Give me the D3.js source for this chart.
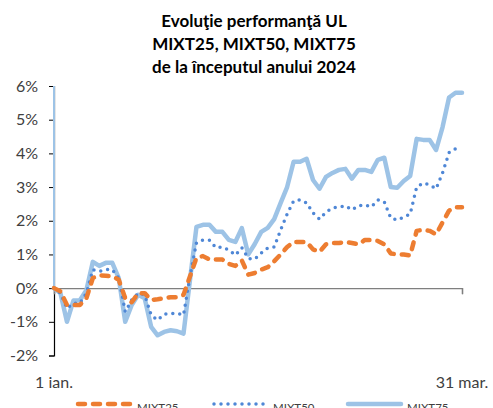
<!DOCTYPE html>
<html>
<head>
<meta charset="utf-8">
<title>Evolutie performanta UL</title>
<script type="text/javascript" src="https://d3js.org/d3.v7.min.js"></script>
<style>
  body { margin: 0; background: #fff; }
  text { font-family: Lato, "Open Sans", sans-serif; }
</style>
</head>
<body>
<script type="text/javascript">

var mixt25 = [0, -0.1, -0.5, -0.5, -0.5, -0.3, 0.3, 0.38, 0.37, 0.35, 0.25, -0.3, -0.42, -0.15, -0.15, -0.35,
  -0.33, -0.3, -0.27, -0.27, -0.2, 0.35, 0.9, 0.95, 0.85, 0.85, 0.85, 0.72, 0.66, 0.82, 0.4, 0.45,
  0.55, 0.62, 0.8, 1.0, 1.22, 1.37, 1.37, 1.37, 1.15, 1.08, 1.3, 1.34, 1.34, 1.37, 1.34, 1.3,
  1.43, 1.43, 1.4, 1.3, 1.03, 1.0, 1.0, 0.97, 1.7, 1.73, 1.7, 1.6, 1.95, 2.3, 2.4, 2.4]
var mixt50 = [0, -0.15, -0.6, -0.45, -0.45, -0.15, 0.55, 0.5, 0.55, 0.55, 0.3, -0.7, -0.35, -0.15, -0.2, -0.8,
  -0.95, -0.78, -0.75, -0.75, -0.8, 0.35, 1.35, 1.43, 1.42, 1.2, 1.22, 1.13, 0.98, 1.2, 0.88, 0.86,
  1.04, 1.19, 1.22, 1.73, 2.2, 2.59, 2.62, 2.53, 2.23, 2.05, 2.26, 2.38, 2.41, 2.44, 2.32, 2.44,
  2.47, 2.41, 2.62, 2.56, 2.08, 2.02, 2.11, 2.2, 3.0, 3.12, 3.07, 2.95, 3.42, 4.02, 4.14, null]
var mixt75 = [0, -0.15, -1.0, -0.37, -0.36, -0.06, 0.78, 0.66, 0.75, 0.75, 0.3, -1.0, -0.5, -0.2, -0.3, -1.15,
  -1.4, -1.3, -1.25, -1.28, -1.35, 0.25, 1.82, 1.88, 1.88, 1.67, 1.67, 1.43, 1.37, 1.78, 1.0, 1.31,
  1.67, 1.79, 2.05, 2.53, 3.0, 3.75, 3.75, 3.84, 3.21, 2.95, 3.3, 3.42, 3.51, 3.54, 3.25, 3.51,
  3.51, 3.45, 3.81, 3.87, 3.0, 2.98, 3.18, 3.33, 4.43, 4.4, 4.4, 4.1, 4.78, 5.66, 5.8, 5.8]

var yTicks = [-2, -1, 0, 1, 2, 3, 4, 5, 6]
var xTickLabels = ["1 ian.", "31 mar."]
var titleLines = ["Evoluţie performanţă UL", "MIXT25, MIXT50, MIXT75", "de la începutul anului 2024"]

var series = [
  {name: "MIXT25", values: mixt25, color: "#ED7D31", width: 4.5, dash: "7,8", cap: "round"},
  {name: "MIXT50", values: mixt50, color: "#4F87D6", width: 3.5, dash: "0,7", cap: "round"},
  {name: "MIXT75", values: mixt75, color: "#9DC3E6", width: 4.5, dash: null, cap: "round"}
]

var w = 493, h = 408
var svg = d3.select("body").append("svg").attr("width", w).attr("height", h)

var n = mixt25.length
var xScale = d3.scaleLinear().domain([0, n - 1]).range([54, 462])
var yScale = d3.scaleLinear().domain([-2, 6]).range([355.5, 86])

// title
svg.selectAll(".title")
  .data(titleLines)
  .enter()
  .append("text")
  .attr("class", "title")
  .attr("x", 254)
  .attr("y", function(d, i) { return 27 + i * 23 })
  .attr("text-anchor", "middle")
  .attr("font-size", 17)
  .attr("font-weight", "bold")
  .attr("fill", "#000")
  .text(function(d) { return d })

// y axis
var yAxis = d3.axisLeft(yScale)
  .tickValues(yTicks)
  .tickSize(5)
  .tickFormat(function(d) { return d + "%" })
var gy = svg.append("g").attr("transform", "translate(54,0)").call(yAxis)
gy.select(".domain").attr("stroke", "#000").attr("stroke-width", 1.2)
gy.selectAll(".tick line").attr("stroke", "#000")
gy.selectAll(".tick text")
  .attr("x", -16)
  .attr("font-size", 16)
  .attr("fill", "#404040")
  .attr("font-family", "Lato, sans-serif")

// light blue stroke over the upper part of the axis
svg.append("line")
  .attr("x1", 54).attr("x2", 54)
  .attr("y1", yScale(6)).attr("y2", yScale(0))
  .attr("stroke", "#9DC3E6")
  .attr("stroke-width", 2)

// x axis along 0%
var xAxis = d3.axisBottom(xScale)
  .tickValues([0, n - 1])
  .tickSize(6)
  .tickFormat("")
var gx = svg.append("g").attr("transform", "translate(0," + yScale(0) + ")").call(xAxis)
gx.select(".domain").attr("stroke", "#7f7f7f").attr("stroke-width", 1.3)
gx.selectAll(".tick line").attr("stroke", "#7f7f7f").attr("stroke-width", 1.3)

svg.selectAll(".xlabel")
  .data(xTickLabels)
  .enter()
  .append("text")
  .attr("class", "xlabel")
  .attr("x", function(d, i) { return xScale(i * (n - 1)) })
  .attr("y", 388)
  .attr("text-anchor", "middle")
  .attr("font-size", 16)
  .attr("fill", "#404040")
  .text(function(d) { return d })

// lines
var line = d3.line()
  .defined(function(d) { return d != null })
  .x(function(d, i) { return xScale(i) })
  .y(function(d) { return yScale(d) })

svg.selectAll(".series")
  .data(series.slice().reverse())
  .enter()
  .append("path")
  .attr("class", "series")
  .attr("d", function(d) { return line(d.values) })
  .attr("fill", "none")
  .attr("stroke", function(d) { return d.color })
  .attr("stroke-width", function(d) { return d.width })
  .attr("stroke-dasharray", function(d) { return d.dash })
  .attr("stroke-linecap", function(d) { return d.cap })
  .attr("stroke-linejoin", "round")

// legend (cut by the bottom edge, as in the source)
var legendX = [78, 214, 348]
var lg = svg.selectAll(".legend")
  .data(series)
  .enter()
  .append("g")
  .attr("class", "legend")
  .attr("transform", function(d, i) { return "translate(" + legendX[i] + ",404)" })

lg.append("line")
  .attr("x1", 0).attr("x2", 53)
  .attr("y1", 0).attr("y2", 0)
  .attr("stroke", function(d) { return d.color })
  .attr("stroke-width", function(d) { return d.width })
  .attr("stroke-dasharray", function(d) { return d.dash })
  .attr("stroke-linecap", function(d) { return d.cap })

lg.append("text")
  .attr("x", 59)
  .attr("y", 8)
  .attr("font-size", 11.5)
  .attr("fill", "#404040")
  .text(function(d) { return d.name })

</script>
</body>
</html>
